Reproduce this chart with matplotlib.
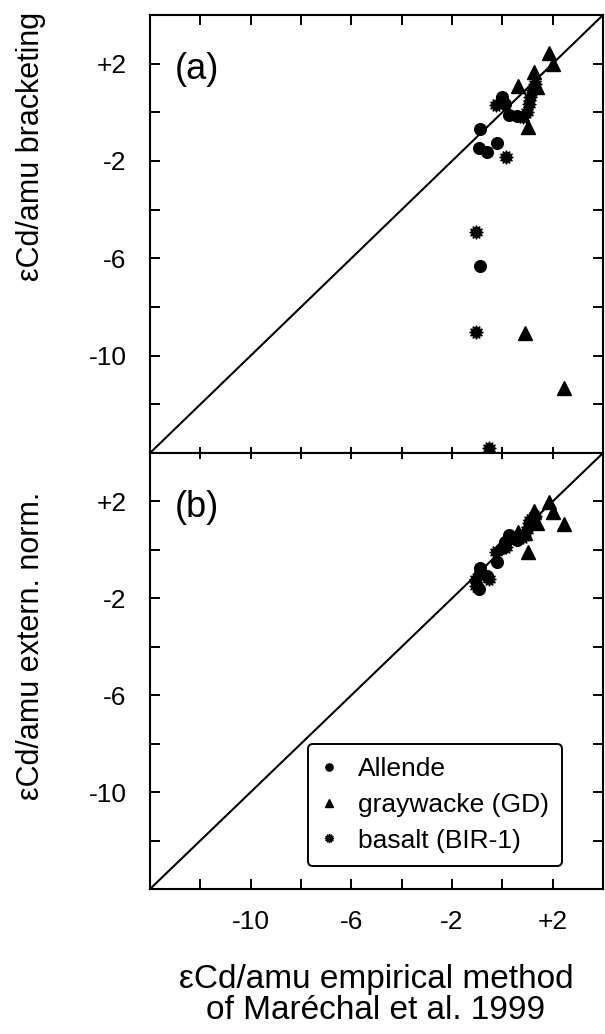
"""Cd isotope fractionation: bracketing and external normalisation vs empirical method."""

import matplotlib

matplotlib.use("Agg")
import matplotlib.pyplot as plt
import numpy
from matplotlib.path import Path

plt.rcParams["font.family"] = ["Liberation Sans", "DejaVu Sans"]

# x: empirical method (Marechal et al. 1999), shared by both panels
allende_x = [-0.02, 0.12, 0.25, 0.58, -0.87, -0.91, -0.61, -0.21, -0.87]
allende_bracketing = [0.62, 0.36, -0.12, -0.16, -0.67, -1.48, -1.64, -1.25, -6.31]
allende_extern = [0.07, 0.34, 0.61, 0.41, -0.75, -1.63, -1.09, -0.48, -0.95]

graywacke_x = [1.87, 2.02, 1.26, 0.62, 1.37, 1.00, 0.91, 2.45]
graywacke_bracketing = [2.42, 1.99, 1.65, 1.10, 1.03, -0.62, -9.07, -11.31]
graywacke_extern = [1.97, 1.56, 1.61, 0.75, 1.10, -0.07, 0.70, 1.05]

basalt_x = [-0.25, 0.14, 0.97, 1.04, 1.10, 1.23, 1.30, 0.84, -1.04, -1.04, -0.51]
basalt_bracketing = [0.29, -1.85, 0.01, 0.36, 0.62, 0.90, 1.17, -0.19, -4.90, -9.03, -13.80]
basalt_extern = [-0.07, 0.10, 0.84, 1.09, 1.22, 1.30, 1.40, 0.54, -1.22, -1.50, -1.22]

major_ticks = [-10, -6, -2, 2]
major_labels = ["-10", "-6", "-2", "+2"]
minor_ticks = [-12, -8, -4, 0]
axis_limits = (-14, 4)


def _gear_marker(points=12, inner=0.62):
    angles = numpy.linspace(0, 2 * numpy.pi, 2 * points, endpoint=False)
    radii = numpy.where(numpy.arange(2 * points) % 2 == 0, 1.0, inner)
    verts = numpy.column_stack([radii * numpy.sin(angles), radii * numpy.cos(angles)])
    verts = numpy.vstack([verts, verts[:1]])
    codes = [Path.MOVETO] + [Path.LINETO] * (len(verts) - 2) + [Path.CLOSEPOLY]
    return Path(verts, codes)


GEAR = _gear_marker()


def _style_axes(axes, top_len, bottom_len, show_xlabels):
    axes.set_xlim(*axis_limits)
    axes.set_ylim(*axis_limits)
    axes.set_xticks(major_ticks)
    axes.set_xticks(minor_ticks, minor=True)
    axes.set_yticks(major_ticks)
    axes.set_yticks(minor_ticks, minor=True)
    axes.set_yticklabels(major_labels)
    if show_xlabels:
        axes.set_xticklabels(major_labels)
    else:
        axes.set_xticklabels([])
    for spine in axes.spines.values():
        spine.set_linewidth(1.5)
    for which in ("major", "minor"):
        axes.tick_params(
            axis="y", which=which, direction="in", length=7, width=1.4,
            left=True, right=True, labelsize=19, pad=17,
        )
        axes.tick_params(
            axis="x", which=which, direction="in", width=1.4,
            top=True, bottom=True, labelsize=19, pad=15,
        )
    for tick in axes.xaxis.get_major_ticks() + axes.xaxis.get_minor_ticks():
        tick.tick1line.set_markersize(bottom_len)
        tick.tick2line.set_markersize(top_len)
    axes.axline((0, 0), slope=1, color="black", linewidth=1.5, zorder=1)


def _scatter(axes, allende_y, graywacke_y, basalt_y):
    axes.plot(allende_x, allende_y, linestyle="", marker="o", markersize=8.4,
              color="black", label="Allende", zorder=3)
    axes.plot(graywacke_x, graywacke_y, linestyle="", marker="^", markersize=9.4,
              color="black", label="graywacke (GD)", zorder=3)
    axes.plot(basalt_x, basalt_y, linestyle="", marker=GEAR, markersize=9.4,
              color="black", label="basalt (BIR-1)", zorder=3)


figure = plt.figure(figsize=(6.05, 10.34), dpi=100)
axes_a = figure.add_axes([150 / 605, 1 - 453 / 1034, 453 / 605, 438 / 1034])
axes_b = figure.add_axes([150 / 605, 1 - 889 / 1034, 453 / 605, 436 / 1034])

_scatter(axes_a, allende_bracketing, graywacke_bracketing, basalt_bracketing)
_scatter(axes_b, allende_extern, graywacke_extern, basalt_extern)
_style_axes(axes_a, top_len=7, bottom_len=4, show_xlabels=False)
_style_axes(axes_b, top_len=4, bottom_len=7, show_xlabels=True)

axes_a.text(0.055, 0.875, "(a)", transform=axes_a.transAxes, fontsize=26,
            ha="left", va="center")
axes_b.text(0.055, 0.875, "(b)", transform=axes_b.transAxes, fontsize=26,
            ha="left", va="center")

legend = axes_b.legend(
    loc="lower left", bbox_to_anchor=(0.349, 0.053), borderaxespad=0,
    fontsize=19, markerscale=0.62, handlelength=0.6, handletextpad=0.8,
    labelspacing=0.45, borderpad=0.5, fancybox=True, framealpha=1,
    edgecolor="black",
)
legend.get_frame().set_linewidth(1.4)

figure.text(31 / 605, 1 - 146 / 1034, "\u03b5Cd/amu bracketing", rotation=90,
            fontsize=22, ha="center", va="center")
figure.text(31 / 605, 1 - 646 / 1034, "\u03b5Cd/amu extern. norm.", rotation=90,
            fontsize=22, ha="center", va="center")
figure.text(376 / 605, 1 - 995 / 1034,
            "\u03b5Cd/amu empirical method\nof Mar\u00e9chal et al. 1999",
            fontsize=24, ha="center", va="center", multialignment="center",
            linespacing=1.0)

figure.savefig("out.png", dpi=100)
